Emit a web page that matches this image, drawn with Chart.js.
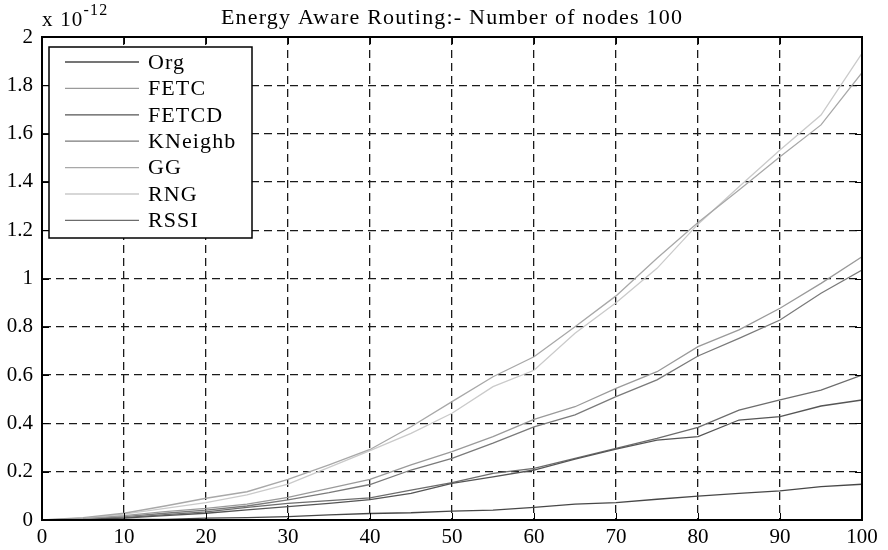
<!DOCTYPE html>
<html><head><meta charset="utf-8">
<script src="https://cdn.jsdelivr.net/npm/chart.js@4.4.0/dist/chart.umd.min.js"></script>
<style>html,body{margin:0;padding:0;background:#fff}#wrap{width:888px;height:550px}</style>
</head><body><div id="wrap"><canvas id="c" width="888" height="550"></canvas></div>
<script>
const titleText = 'Energy Aware Routing:- Number of nodes 100';
const nodes   = [0,5,10,15,20,25,30,35,40,45,50,55,60,65,70,75,80,85,90,95,100];
const org     = [0,0,0.002,0.003,0.008,0.010,0.014,0.021,0.027,0.030,0.037,0.041,0.052,0.066,0.072,0.086,0.099,0.110,0.121,0.138,0.148];
const fetc    = [0,0.005,0.018,0.035,0.048,0.066,0.094,0.131,0.168,0.228,0.283,0.345,0.417,0.469,0.545,0.614,0.718,0.787,0.877,0.980,1.090];
const fetcd   = [0,0.002,0.008,0.018,0.028,0.042,0.055,0.069,0.084,0.110,0.152,0.179,0.207,0.252,0.293,0.331,0.345,0.414,0.428,0.472,0.497];
const kneighb = [0,0.004,0.014,0.028,0.041,0.058,0.083,0.113,0.147,0.207,0.255,0.318,0.386,0.435,0.511,0.580,0.679,0.752,0.828,0.939,1.035];
const gg      = [0,0.010,0.028,0.058,0.090,0.117,0.168,0.228,0.292,0.386,0.490,0.593,0.676,0.800,0.928,1.084,1.232,1.366,1.504,1.636,1.852];
const rng     = [0,0.008,0.024,0.048,0.072,0.104,0.149,0.218,0.287,0.359,0.442,0.552,0.620,0.773,0.900,1.042,1.225,1.380,1.532,1.677,1.932];
const rssi    = [0,0.003,0.010,0.022,0.034,0.052,0.069,0.080,0.092,0.124,0.155,0.193,0.214,0.255,0.297,0.338,0.384,0.455,0.497,0.538,0.600];
const seriesNames  = ['Org','FETC','FETCD','KNeighb','GG','RNG','RSSI'];
const seriesValues = [org, fetc, fetcd, kneighb, gg, rng, rssi];
const seriesColors = ['#474747','#9a9a9a','#555555','#7a7a7a','#a8a8a8','#cacaca','#6c6c6c'];
const xTicks = [0,10,20,30,40,50,60,70,80,90,100];
const yTicks = [0,0.2,0.4,0.6,0.8,1,1.2,1.4,1.6,1.8,2];
const FONT = '"Liberation Serif", "Times New Roman", serif';

const datasets = seriesNames.map((n,i)=>({
  label:n,
  data: nodes.map((x,j)=>({x, y: seriesValues[i][j]})),
  borderColor: seriesColors[i], backgroundColor: seriesColors[i],
  borderWidth: 1.3, pointRadius: 0, tension: 0, fill:false
}));

const frame = {
  id:'frame',
  afterDraw(chart){
    const {ctx, chartArea:a, scales:{x,y}} = chart;
    ctx.save();
    ctx.strokeStyle='#000'; ctx.lineWidth=1; ctx.setLineDash([]);
    const tl = 7;
    xTicks.forEach(v=>{const px=Math.round(x.getPixelForValue(v))+0.5;
      ctx.beginPath(); ctx.moveTo(px,a.top); ctx.lineTo(px,a.top+tl);
      ctx.moveTo(px,a.bottom); ctx.lineTo(px,a.bottom-tl); ctx.stroke();});
    yTicks.forEach(v=>{const py=Math.round(y.getPixelForValue(v))+0.5;
      ctx.beginPath(); ctx.moveTo(a.left,py); ctx.lineTo(a.left+tl,py);
      ctx.moveTo(a.right,py); ctx.lineTo(a.right-tl,py); ctx.stroke();});
    ctx.lineWidth=2;
    ctx.strokeRect(a.left,a.top,a.right-a.left,a.bottom-a.top);
    // title
    ctx.fillStyle='#000';
    ctx.letterSpacing='1.2px';
    ctx.font='22px '+FONT; ctx.textAlign='center'; ctx.textBaseline='alphabetic';
    ctx.fillText(titleText,(a.left+a.right)/2,24);
    // exponent
    ctx.textAlign='left';
    ctx.font='21px '+FONT;
    ctx.fillText('x 10',42,26);
    const w=ctx.measureText('x 10').width;
    ctx.font='16px '+FONT;
    ctx.fillText('-12',42+w,15);
    // legend
    const lx=49, ly=47, lw=203, lh=191;
    ctx.fillStyle='#fff'; ctx.fillRect(lx,ly,lw,lh);
    ctx.lineWidth=1.5; ctx.strokeStyle='#000'; ctx.strokeRect(lx,ly,lw,lh);
    ctx.letterSpacing='1.1px';
    ctx.font='22px '+FONT; ctx.textBaseline='middle';
    chart.data.datasets.forEach((d,i)=>{
      const yy = 62 + i*26.4;
      ctx.strokeStyle=d.borderColor; ctx.lineWidth=1.3;
      ctx.beginPath(); ctx.moveTo(65,yy); ctx.lineTo(139,yy); ctx.stroke();
      ctx.fillStyle='#000'; ctx.fillText(d.label,148,yy+1);
    });
    ctx.restore();
  }
};

new Chart(document.getElementById('c'),{
  type:'line',
  data:{datasets},
  options:{
    responsive:false, animation:false,
    layout:{padding:{top:37,right:26,left:0,bottom:0}},
    plugins:{legend:{display:false},title:{display:false},tooltip:{enabled:false}},
    scales:{
      x:{type:'linear',min:0,max:100,
        afterFit(s){s.height=30;},
        afterBuildTicks(s){s.ticks=xTicks.map(v=>({value:v}));},
        ticks:{color:'#000',font:{family:FONT,size:21},padding:5,maxRotation:0,autoSkip:false,
          callback:v=>String(v)},
        grid:{color:'#1a1a1a',lineWidth:1.3,drawTicks:false},
        border:{display:true,color:'#000',width:2,dash:[8,5]}
      },
      y:{type:'linear',min:0,max:2,
        afterFit(s){s.width=42;},
        afterBuildTicks(s){s.ticks=yTicks.map(v=>({value:v}));},
        ticks:{color:'#000',font:{family:FONT,size:21},padding:9,autoSkip:false,
          callback:v=>String(+v.toFixed(1))},
        grid:{color:'#1a1a1a',lineWidth:1.3,drawTicks:false},
        border:{display:true,color:'#000',width:2,dash:[8,5]}
      }
    }
  },
  plugins:[frame]
});
</script></body></html>
